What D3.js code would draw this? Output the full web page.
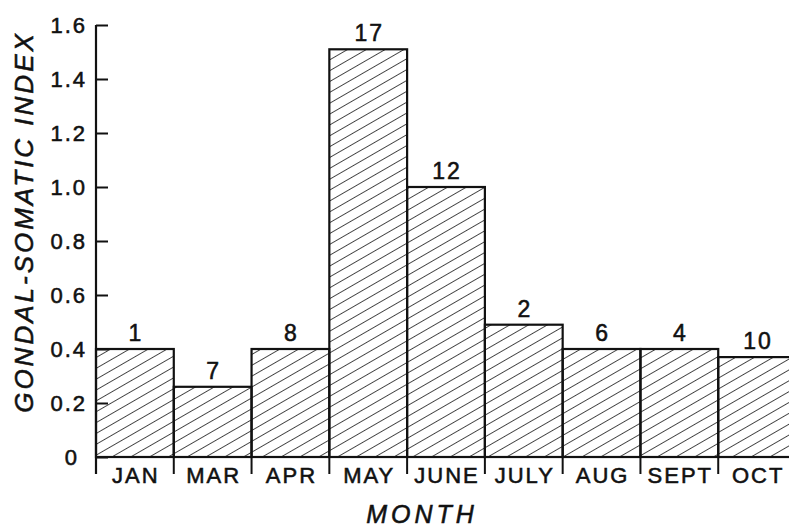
<!DOCTYPE html>
<html>
<head>
<meta charset="utf-8">
<script src="https://cdn.jsdelivr.net/npm/d3@7"></script>
<style>
  html, body { margin: 0; padding: 0; background: #fff; }
  svg { display: block; }
  text { font-family: "Liberation Sans", Arial, sans-serif; fill: #111; stroke: #111; stroke-width: 0.55px; }
</style>
</head>
<body>
<svg id="chart" width="789" height="527"></svg>
<script>
// Gonadal-somatic index by month, with sample size above each bar
const months = ["JAN", "MAR", "APR", "MAY", "JUNE", "JULY", "AUG", "SEPT", "OCT"];
const gsi = [0.40, 0.26, 0.40, 1.51, 1.00, 0.49, 0.40, 0.40, 0.37];
const sampleSizes = [1, 7, 8, 17, 12, 2, 6, 4, 10];
const yTicks = [0, 0.2, 0.4, 0.6, 0.8, 1.0, 1.2, 1.4, 1.6];

const svg = d3.select("#chart");
const ink = "#111";

const x = d3.scaleBand().domain(months).range([96, 796]).padding(0);
const y = d3.scaleLinear().domain([0, 1.6]).range([457, 25]);

// diagonal hatching
const defs = svg.append("defs");
defs.append("pattern")
  .attr("id", "hatch")
  .attr("patternUnits", "userSpaceOnUse")
  .attr("width", 9.4).attr("height", 10)
  .attr("patternTransform", "rotate(60)")
  .append("line")
  .attr("x1", 0).attr("y1", 0).attr("x2", 0).attr("y2", 10)
  .attr("stroke", ink).attr("stroke-width", 1.5);

// bars
svg.append("g").selectAll("rect")
  .data(months)
  .join("rect")
  .attr("x", d => x(d))
  .attr("y", (d, i) => y(gsi[i]))
  .attr("width", x.bandwidth())
  .attr("height", (d, i) => y(0) - y(gsi[i]))
  .attr("fill", "url(#hatch)")
  .attr("stroke", ink)
  .attr("stroke-width", 2.2);

// sample sizes
svg.append("g").selectAll("text")
  .data(months)
  .join("text")
  .attr("x", d => x(d) + x.bandwidth() / 2 + 1)
  .attr("y", (d, i) => y(gsi[i]) - 8)
  .attr("text-anchor", "middle")
  .attr("font-size", 23)
  .attr("letter-spacing", 2)
  .text((d, i) => sampleSizes[i]);

// y axis: ticks point inward
const yAxis = svg.append("g")
  .attr("transform", "translate(96,0)")
  .call(d3.axisRight(y).tickValues(yTicks).tickSize(12).tickFormat(""));
yAxis.select(".domain").remove();
yAxis.selectAll(".tick line").attr("stroke", ink).attr("stroke-width", 2);
svg.append("line")
  .attr("x1", 96).attr("x2", 96)
  .attr("y1", y(1.6)).attr("y2", 474)
  .attr("stroke", ink).attr("stroke-width", 2.2);

svg.append("g").selectAll("text")
  .data(yTicks)
  .join("text")
  .attr("x", d => d === 0 ? 79 : 87)
  .attr("y", d => y(d))
  .attr("dy", "0.36em")
  .attr("text-anchor", "end")
  .attr("font-size", 22)
  .attr("letter-spacing", 2)
  .text(d => d === 0 ? "0" : d3.format(".1f")(d));

// x axis: baseline with downward ticks between months
svg.append("line")
  .attr("x1", 96).attr("x2", 796)
  .attr("y1", y(0)).attr("y2", y(0))
  .attr("stroke", ink).attr("stroke-width", 2.2);

const bounds = months.map(m => x(m)).concat([x(months[months.length - 1]) + x.bandwidth()]);
svg.append("g").selectAll("line")
  .data(bounds)
  .join("line")
  .attr("x1", d => d).attr("x2", d => d)
  .attr("y1", y(0)).attr("y2", 474)
  .attr("stroke", ink).attr("stroke-width", 2);

svg.append("g").selectAll("text")
  .data(months)
  .join("text")
  .attr("x", d => x(d) + x.bandwidth() / 2 + 1)
  .attr("y", 483)
  .attr("text-anchor", "middle")
  .attr("font-size", 22)
  .attr("letter-spacing", 2)
  .text(d => d);

// axis titles
svg.append("text")
  .attr("x", 422).attr("y", 523)
  .attr("text-anchor", "middle")
  .attr("font-size", 25)
  .attr("font-style", "italic")
  .attr("letter-spacing", 4)
  .text("MONTH");

svg.append("text")
  .attr("transform", "translate(33,222) rotate(-90)")
  .attr("text-anchor", "middle")
  .attr("font-size", 26)
  .attr("font-style", "italic")
  .attr("letter-spacing", 3)
  .text("GONDAL-SOMATIC INDEX");
</script>
</body>
</html>
